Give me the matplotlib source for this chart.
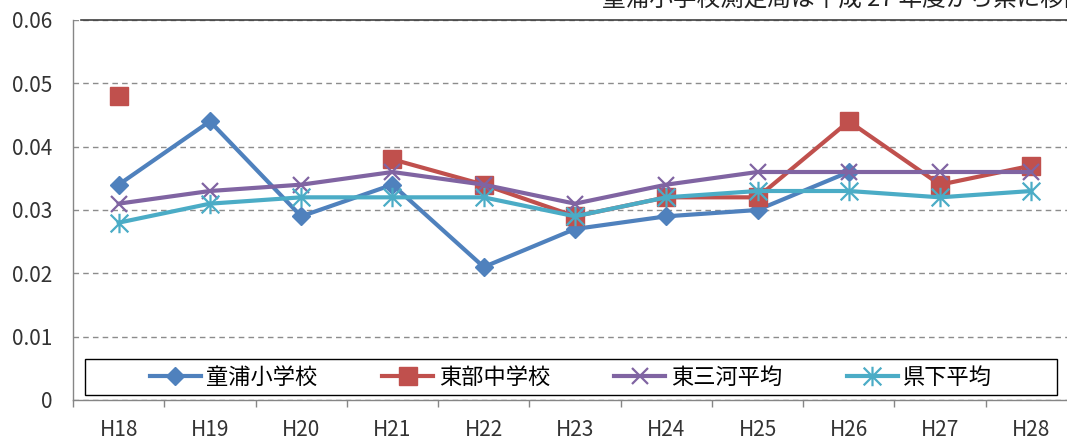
import numpy as np
import matplotlib
matplotlib.use('Agg')
import matplotlib.pyplot as plt
from matplotlib.path import Path
from matplotlib.patches import Rectangle
from matplotlib.lines import Line2D

plt.rcParams['font.family'] = ['Noto Sans CJK JP', 'DejaVu Sans']

# data
years = ['H18', 'H19', 'H20', 'H21', 'H22', 'H23', 'H24', 'H25', 'H26', 'H27', 'H28']
tonoura = [0.034, 0.044, 0.029, 0.034, 0.021, 0.027, 0.029, 0.030, 0.036, np.nan, np.nan]
tobu = [0.048, np.nan, np.nan, 0.038, 0.034, 0.029, 0.032, 0.032, 0.044, 0.034, 0.037]
higashi_mikawa = [0.031, 0.033, 0.034, 0.036, 0.034, 0.031, 0.034, 0.036, 0.036, 0.036, 0.036]
kenka = [0.028, 0.031, 0.032, 0.032, 0.032, 0.029, 0.032, 0.033, 0.033, 0.032, 0.033]
names = ['童浦小学校', '東部中学校', '東三河平均', '県下平均']
note = '童浦小学校測定局は平成 27 年度から県に移設'

W, H = 1067, 441
fig = plt.figure(figsize=(W / 100, H / 100), dpi=100)
ax_left, ax_right, ax_top, ax_bot = 73, 1077, 20, 400
ax = fig.add_axes([ax_left / W, (H - ax_bot) / H, (ax_right - ax_left) / W, (ax_bot - ax_top) / H])

x = np.arange(len(years))

# asterisk marker (x plus vertical bar)
star = Path([(-0.5, -0.5), (0.5, 0.5), (-0.5, 0.5), (0.5, -0.5), (0, -0.55), (0, 0.55)],
            [Path.MOVETO, Path.LINETO, Path.MOVETO, Path.LINETO, Path.MOVETO, Path.LINETO])

blue, red, purple, cyan = '#4F81BD', '#C0504D', '#8064A2', '#4BACC6'
styles = [
    dict(color=blue, marker='D', markersize=9, markeredgewidth=1),
    dict(color=red, marker='s', markersize=13, markeredgewidth=1),
    dict(color=purple, marker='x', markersize=12, markeredgewidth=1.6),
    dict(color=cyan, marker=star, markersize=14, markeredgewidth=1.6),
]
series = [tonoura, tobu, higashi_mikawa, kenka]
handles = []
for vals, st, nm in zip(series, styles, names):
    ln, = ax.plot(x, vals, linewidth=3, solid_joinstyle='round', label=nm, **st)
    handles.append(ln)

ax.set_xlim(-0.5, len(years) - 0.5)
ax.set_ylim(0, 0.06)
ax.set_yticks([0, 0.01, 0.02, 0.03, 0.04, 0.05, 0.06])
ax.set_yticklabels(['0', '0.01', '0.02', '0.03', '0.04', '0.05', '0.06'])
ax.set_xticks(x)
ax.set_xticklabels(years)
ax.set_xticks(np.arange(-0.5, len(years), 1), minor=True)
ax.tick_params(axis='x', which='major', length=0, pad=14, labelsize=15, labelcolor='#333333')
ax.tick_params(axis='x', which='minor', length=5, direction='out', color='#868686', width=1)
ax.tick_params(axis='y', length=0, pad=15, labelsize=15, labelcolor='#333333')

ax.grid(axis='y', linestyle=(0, (4, 3)), color='#8c8c8c', linewidth=1)
ax.set_axisbelow(True)
for s in ['top', 'right']:
    ax.spines[s].set_visible(False)
for s in ['left', 'bottom']:
    ax.spines[s].set_color('#868686')
    ax.spines[s].set_linewidth(1)

# top border line of note box and note text (clipped by the image edge like the original)
fig.add_artist(Line2D([81 / W, 1], [1 - 19.5 / H, 1 - 19.5 / H], color='#404040', linewidth=1.2))
fig.text(602 / W, 1 - 6 / H, note, fontsize=17, color='#222222', va='baseline', ha='left')

# legend box
lx0, lx1, ly0, ly1 = 85, 1057, 359, 395
fig.add_artist(Rectangle((lx0 / W, 1 - ly1 / H), (lx1 - lx0) / W, (ly1 - ly0) / H,
                         transform=fig.transFigure, facecolor='white', edgecolor='black',
                         linewidth=1, zorder=4))
leg = fig.legend(handles=handles, loc='center', ncol=4,
                 bbox_to_anchor=((lx0 + lx1) / 2 / W, 1 - (ly0 + ly1) / 2 / H),
                 frameon=False, fontsize=16, numpoints=1, handlelength=2.3,
                 handletextpad=0.25, columnspacing=2.9)
leg.set_zorder(5)

fig.savefig('out.png', dpi=100)
